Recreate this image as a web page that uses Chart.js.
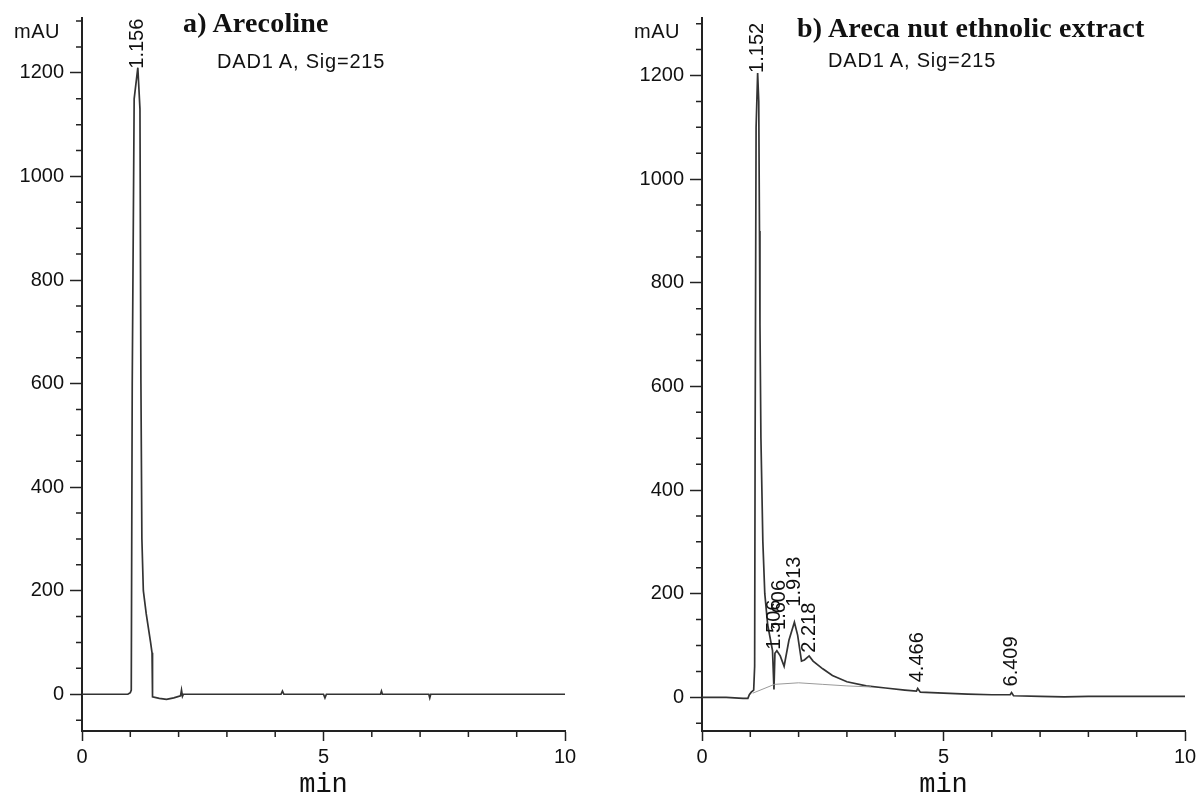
<html>
<head>
    <script src="https://cdn.jsdelivr.net/npm/chart.js"></script>
    <title>HPLC chromatograms</title>
    <style>
        body { margin:0; background:#fff; width:1202px; height:801px; position:relative; overflow:hidden; font-family:"Liberation Sans", Arial, sans-serif; color:#111; }
        .box { position:absolute; top:0; height:801px; }
        .t { position:absolute; white-space:nowrap; line-height:1; }
        .ttl { font-family:"Liberation Serif", "Times New Roman", serif; font-weight:bold; font-size:28px; letter-spacing:0.2px; }
        .sig { font-size:20px; letter-spacing:0.8px; }
        .mau { font-size:20px; letter-spacing:0.5px; }
    </style>
</head>
<body>
    <div class="box" style="left:0;width:600px;"><canvas id="c1" width="600" height="801"></canvas></div>
    <div class="box" style="left:600px;width:602px;"><canvas id="c2" width="602" height="801"></canvas></div>

    <div class="t mau" style="left:14px;top:21px;">mAU</div>
    <div class="t ttl" style="left:183px;top:9px;">a) Arecoline</div>
    <div class="t sig" style="left:217px;top:51px;">DAD1 A, Sig=215</div>

    <div class="t mau" style="left:634px;top:21px;">mAU</div>
    <div class="t ttl" style="left:797px;top:14px;">b) Areca nut ethnolic extract</div>
    <div class="t sig" style="left:828px;top:50px;">DAD1 A, Sig=215</div>

    <script>
        "use strict";

        // a) Arecoline trace (min, mAU)
        let timeA  = [0, 0.5, 0.95, 1.0, 1.02, 1.04, 1.08, 1.156, 1.2, 1.22, 1.24, 1.27, 1.33, 1.42, 1.45, 1.46, 1.6, 1.75, 1.9, 2.04, 2.06, 2.08, 2.1, 2.5, 3.0, 4.12, 4.15, 4.18, 5.0, 5.03, 5.06, 6.18, 6.2, 6.22, 7.18, 7.2, 7.22, 8.0, 9.0, 10];
        let valueA = [0, 0, 0, 3, 8, 600, 1150, 1210, 1130, 600, 300, 200, 155, 100, 80, -5, -8, -10, -7, -3, 8, -4, 0, 0, 0, 0, 6, 0, 0, -7, 0, 0, 6, 0, 0, -7, 0, 0, 0, 0];

        // b) Areca nut ethanolic extract trace
        let timeB  = [0, 0.5, 0.85, 0.95, 0.98, 1.02, 1.07, 1.09, 1.1, 1.12, 1.152, 1.175, 1.19, 1.2, 1.22, 1.26, 1.3, 1.36, 1.42, 1.46, 1.49, 1.51, 1.55, 1.62, 1.7, 1.8, 1.913, 1.98, 2.06, 2.12, 2.218, 2.3, 2.5, 2.7, 3.0, 3.4, 3.8, 4.2, 4.44, 4.466, 4.52, 5.0, 5.5, 6.0, 6.38, 6.409, 6.45, 7.0, 7.5, 8.0, 9.0, 10];
        let valueB = [0, 0, -2, -2, 5, 10, 14, 60, 500, 1100, 1205, 1150, 900, 720, 500, 300, 200, 140, 110, 90, 15, 85, 90, 80, 60, 110, 145, 120, 70, 72, 80, 70, 55, 42, 30, 22, 18, 14, 12, 17, 10, 8, 6, 5, 5, 9, 3, 2, 1, 2, 2, 2];

        // integration baseline under the early peaks of b)
        let baseTimeB  = [1.05, 1.5, 2.0, 2.5, 3.0, 3.5];
        let baseValueB = [8, 25, 28, 25, 22, 20];

        // retention time labels: time, text, value where the label starts
        let peakTimeA  = [1.156];
        let peakTextA  = ["1.156"];
        let peakLevelA = [1208];

        let peakTimeB  = [1.152, 1.506, 1.606, 1.913, 2.218, 4.466, 6.409];
        let peakTextB  = ["1.152", "1.506", "1.606", "1.913", "2.218", "4.466", "6.409"];
        let peakLevelB = [1205, 92, 130, 175, 86, 29, 21];

        let yMinA = -71, yMaxA = 1306;
        let yMinB = -65, yMaxB = 1311;

        const tickFont = { family: '"Liberation Sans", Arial, sans-serif', size: 20 };
        const ink = "#222";

        function pts(t, v) {
            return t.map((x, i) => ({ x: x, y: v[i] }));
        }

        // minor ticks and the rotated peak labels
        const marks = {
            id: "marks",
            afterDraw(chart, args, opts) {
                let ctx = chart.ctx;
                let xs = chart.scales.x;
                let ys = chart.scales.y;
                ctx.save();
                ctx.strokeStyle = ink;
                ctx.lineWidth = 1.5;
                ctx.beginPath();
                for (let v = Math.ceil(ys.min / 50) * 50; v <= ys.max; v += 50) {
                    if (v % 200 === 0) continue;
                    let y = ys.getPixelForValue(v);
                    ctx.moveTo(xs.left - 6, y);
                    ctx.lineTo(xs.left, y);
                }
                for (let t = 1; t < 10; t++) {
                    if (t % 5 === 0) continue;
                    let x = xs.getPixelForValue(t);
                    ctx.moveTo(x, ys.bottom);
                    ctx.lineTo(x, ys.bottom + 6);
                }
                ctx.stroke();

                ctx.font = '20px "Liberation Sans", Arial, sans-serif';
                ctx.fillStyle = "#111";
                ctx.textAlign = "left";
                ctx.textBaseline = "middle";
                opts.times.forEach((t, i) => {
                    let x = xs.getPixelForValue(t);
                    let y = ys.getPixelForValue(opts.levels[i]);
                    ctx.save();
                    ctx.translate(x, y);
                    ctx.rotate(-Math.PI / 2);
                    ctx.fillText(opts.texts[i], 0, 0);
                    ctx.restore();
                });
                ctx.restore();
            }
        };

        function MakeChart(id, datasets, yMin, yMax, axisWidth, padRight, peaks) {
            let params = {
                type: "line",
                data: { datasets: datasets },
                plugins: [marks],
                options: {
                    responsive: false,
                    animation: false,
                    devicePixelRatio: 1,
                    layout: { padding: { top: 15, right: padRight, left: 0, bottom: 0 } },
                    plugins: {
                        legend: { display: false },
                        tooltip: { enabled: false },
                        marks: peaks
                    },
                    elements: { point: { radius: 0 }, line: { tension: 0 } },
                    scales: {
                        x: {
                            type: "linear",
                            min: 0,
                            max: 10,
                            afterFit: s => { s.height = 70; },
                            border: { display: true, color: ink, width: 2 },
                            grid: {
                                drawOnChartArea: false,
                                tickLength: 10,
                                tickWidth: 1.5,
                                tickColor: c => (c.tick && c.tick.value % 5 === 0) ? ink : "rgba(0,0,0,0)"
                            },
                            ticks: {
                                stepSize: 1,
                                autoSkip: false,
                                maxRotation: 0,
                                padding: 4,
                                color: "#111",
                                font: tickFont,
                                callback: v => v % 5 === 0 ? v : ""
                            },
                            title: {
                                display: true,
                                text: "min",
                                color: "#111",
                                padding: { top: 0, bottom: 0 },
                                font: { family: '"Liberation Mono", "Courier New", monospace', size: 27 }
                            }
                        },
                        y: {
                            type: "linear",
                            min: yMin,
                            max: yMax,
                            afterFit: s => { s.width = axisWidth; },
                            border: { display: true, color: ink, width: 2 },
                            grid: {
                                drawOnChartArea: false,
                                tickLength: 12,
                                tickWidth: 1.5,
                                tickColor: c => (c.tick && c.tick.value % 200 === 0) ? ink : "rgba(0,0,0,0)"
                            },
                            ticks: {
                                stepSize: 50,
                                includeBounds: false,
                                autoSkip: false,
                                padding: 6,
                                color: "#111",
                                font: tickFont,
                                callback: v => v % 200 === 0 ? v : ""
                            }
                        }
                    }
                }
            };
            return new Chart(document.querySelector(id), params);
        }

        let chart1 = MakeChart("#c1", [
            { data: pts(timeA, valueA), borderColor: "#333", borderWidth: 1.7, fill: false }
        ], yMinA, yMaxA, 82, 35, { times: peakTimeA, texts: peakTextA, levels: peakLevelA });

        let chart2 = MakeChart("#c2", [
            { data: pts(baseTimeB, baseValueB), borderColor: "#9a9a9a", borderWidth: 1, fill: false },
            { data: pts(timeB, valueB), borderColor: "#333", borderWidth: 1.7, fill: false }
        ], yMinB, yMaxB, 102, 17, { times: peakTimeB, texts: peakTextB, levels: peakLevelB });
    </script>
</body>
</html>
